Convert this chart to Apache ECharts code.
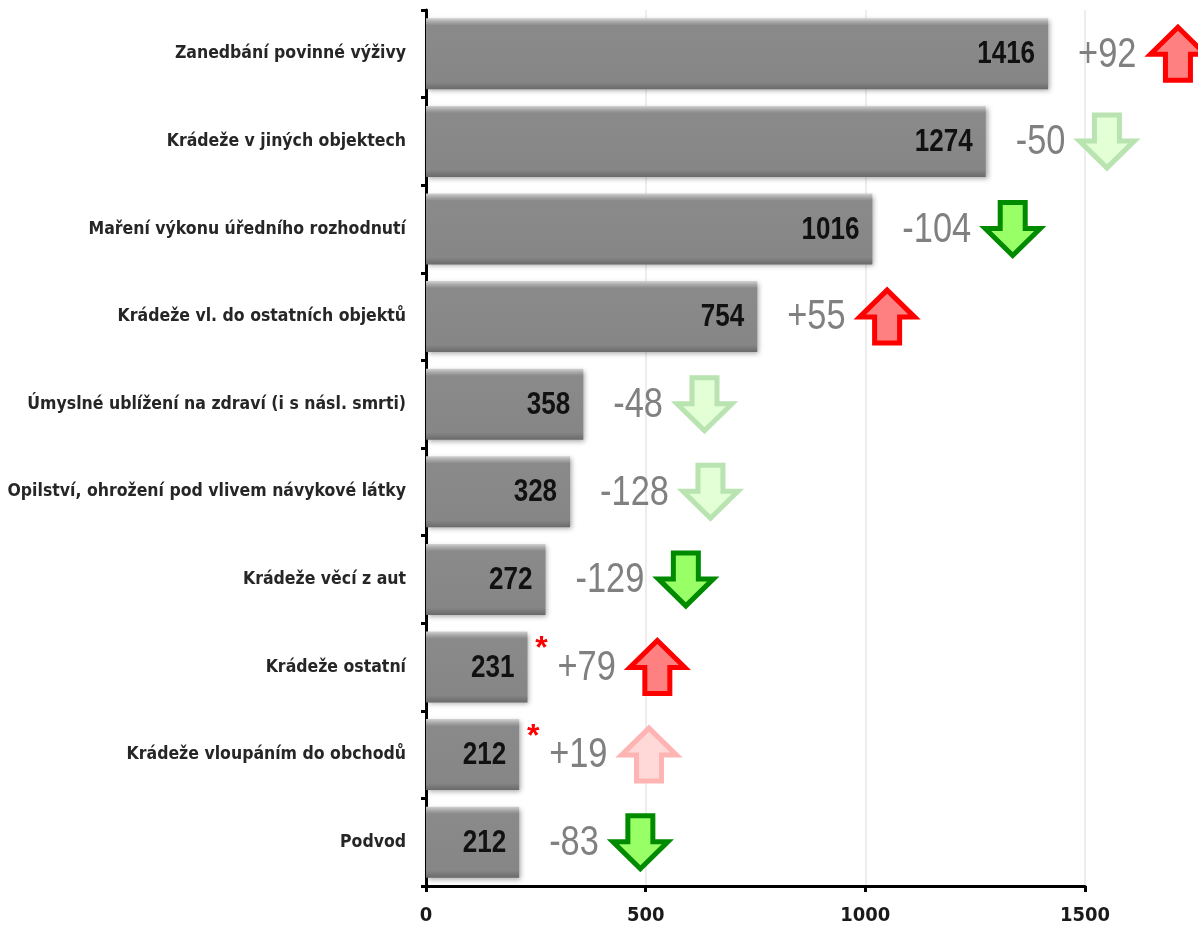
<!DOCTYPE html>
<html>
<head>
<meta charset="utf-8">
<script src="https://cdn.jsdelivr.net/npm/echarts@6/dist/echarts.min.js"></script>
<style>
html,body{margin:0;padding:0;background:#fff;}
#chart{width:1198px;height:930px;}
</style>
</head>
<body>
<div id="chart"></div>
<script>
const categories = [
  'Zanedbání povinné výživy',
  'Krádeže v jiných objektech',
  'Maření výkonu úředního rozhodnutí',
  'Krádeže vl. do ostatních objektů',
  'Úmyslné ublížení na zdraví (i s násl. smrti)',
  'Opilství, ohrožení pod vlivem návykové látky',
  'Krádeže věcí z aut',
  'Krádeže ostatní',
  'Krádeže vloupáním do obchodů',
  'Podvod'
];
const counts = [1416, 1274, 1016, 754, 358, 328, 272, 231, 212, 212];
const changes = [92, -50, -104, 55, -48, -128, -129, 79, 19, -83];
const tones = ['strong', 'weak', 'strong', 'strong', 'weak', 'weak', 'strong', 'strong', 'weak', 'strong'];
const starred = [false, false, false, false, false, false, false, true, true, false];
const xTicks = [0, 500, 1000, 1500];

const COND = "'DejaVu Sans Condensed', 'Liberation Sans Narrow', sans-serif";
const ARIAL = "'Liberation Sans', Arial, sans-serif";
const CHANGE_FONT = '43px ' + ARIAL;
const CHANGE_SCALE = 0.8;
const VALUE_FONT = 'bold 31px ' + ARIAL;
const VALUE_SCALE = 0.84;

const measureCtx = document.createElement('canvas').getContext('2d');
function textWidth(str, font) {
  measureCtx.font = font;
  return measureCtx.measureText(str).width;
}

const arrowColors = {
  up:   { strong: { fill: '#ff8080', stroke: '#ff0000' }, weak: { fill: '#ffd8d8', stroke: '#ffb4b4' } },
  down: { strong: { fill: '#99ff66', stroke: '#008a00' }, weak: { fill: '#e2ffd6', stroke: '#b9e3b0' } }
};

function arrowPoints(x, cy, up) {
  const w = 55, h = 53, head = 27, sw = 12.5;
  const cx = x + w / 2;
  const top = cy - h / 2, bot = cy + h / 2;
  if (up) {
    return [[cx, top], [x + w, top + head], [cx + sw, top + head], [cx + sw, bot],
            [cx - sw, bot], [cx - sw, top + head], [x, top + head]];
  }
  return [[cx, bot], [x + w, bot - head], [cx + sw, bot - head], [cx + sw, top],
          [cx - sw, top], [cx - sw, bot - head], [x, bot - head]];
}

const annoData = counts.map((v, i) => [v, i, changes[i]]);

const chart = echarts.init(document.getElementById('chart'));
chart.setOption({
  backgroundColor: '#ffffff',
  animation: false,
  grid: { left: 426, right: 113, top: 10, bottom: 44, containLabel: false, outerBoundsMode: 'none' },
  xAxis: {
    type: 'value',
    min: 0, max: 1500, interval: 500,
    axisLine: { show: true, lineStyle: { color: '#000', width: 3 } },
    axisTick: { show: true, length: 6, lineStyle: { color: '#000', width: 3 } },
    splitLine: { show: true, lineStyle: { color: '#ededed', width: 2 } },
    axisLabel: {
      color: '#1a1a1a', fontFamily: COND, fontWeight: 'bold', fontSize: 20, margin: 20,
      formatter: v => (xTicks.indexOf(v) >= 0 ? String(v) : '')
    }
  },
  yAxis: {
    type: 'category',
    data: categories,
    inverse: true,
    axisLine: { show: true, lineStyle: { color: '#000', width: 3 } },
    axisTick: { show: true, length: 5, lineStyle: { color: '#000', width: 3 } },
    axisLabel: { color: '#262626', fontFamily: COND, fontWeight: 'bold', fontSize: 17.5, margin: 20 }
  },
  series: [
    {
      type: 'bar',
      data: counts,
      barCategoryGap: '19%',
      itemStyle: {
        color: new echarts.graphic.LinearGradient(0, 0, 0, 1, [
          { offset: 0, color: '#d2d2d2' },
          { offset: 0.05, color: '#a9a9a9' },
          { offset: 0.1, color: '#8a8a8a' },
          { offset: 0.9, color: '#868686' },
          { offset: 1, color: '#6a6a6a' }
        ]),
        shadowColor: 'rgba(0,0,0,0.35)',
        shadowBlur: 5,
        shadowOffsetX: 2,
        shadowOffsetY: 2
      },
      z: 2
    },
    {
      type: 'custom',
      data: annoData,
      encode: { x: 0, y: 1 },
      z: 5,
      clip: false,
      renderItem: function (params, api) {
        const i = params.dataIndex;
        const val = api.value(0);
        const chg = api.value(2);
        const p = api.coord([val, i]);
        const band = api.size([0, 1])[1];
        const barH = band * 0.81;
        const txt = (chg > 0 ? '+' : '') + chg;
        const tx = p[0] + 30;
        const tw = textWidth(txt, CHANGE_FONT) * CHANGE_SCALE;
        const ax = tx + tw + 14;
        const up = chg > 0;
        const col = arrowColors[up ? 'up' : 'down'][tones[i]];
        const children = [
          {
            type: 'text',
            x: p[0] - 13, y: p[1] + 1,
            scaleX: VALUE_SCALE,
            style: {
              x: 0, y: 0, text: String(val),
              fill: '#111', font: VALUE_FONT,
              textAlign: 'right', textVerticalAlign: 'middle'
            }
          },
          {
            type: 'text',
            x: tx, y: p[1] + 1,
            scaleX: CHANGE_SCALE,
            style: {
              x: 0, y: 0, text: txt,
              fill: '#808080', font: CHANGE_FONT,
              textAlign: 'left', textVerticalAlign: 'middle'
            }
          },
          {
            type: 'polygon',
            shape: { points: arrowPoints(ax, p[1], up) },
            style: { fill: col.fill, stroke: col.stroke, lineWidth: 5, lineJoin: 'miter' }
          }
        ];
        if (starred[i]) {
          children.push({
            type: 'text',
            style: {
              x: p[0] + 14, y: p[1] - barH / 2 + 18, text: '*',
              fill: '#ff0000', font: 'bold 32px ' + ARIAL,
              textAlign: 'center', textVerticalAlign: 'middle'
            }
          });
        }
        return { type: 'group', children: children };
      }
    }
  ]
});
</script>
</body>
</html>
